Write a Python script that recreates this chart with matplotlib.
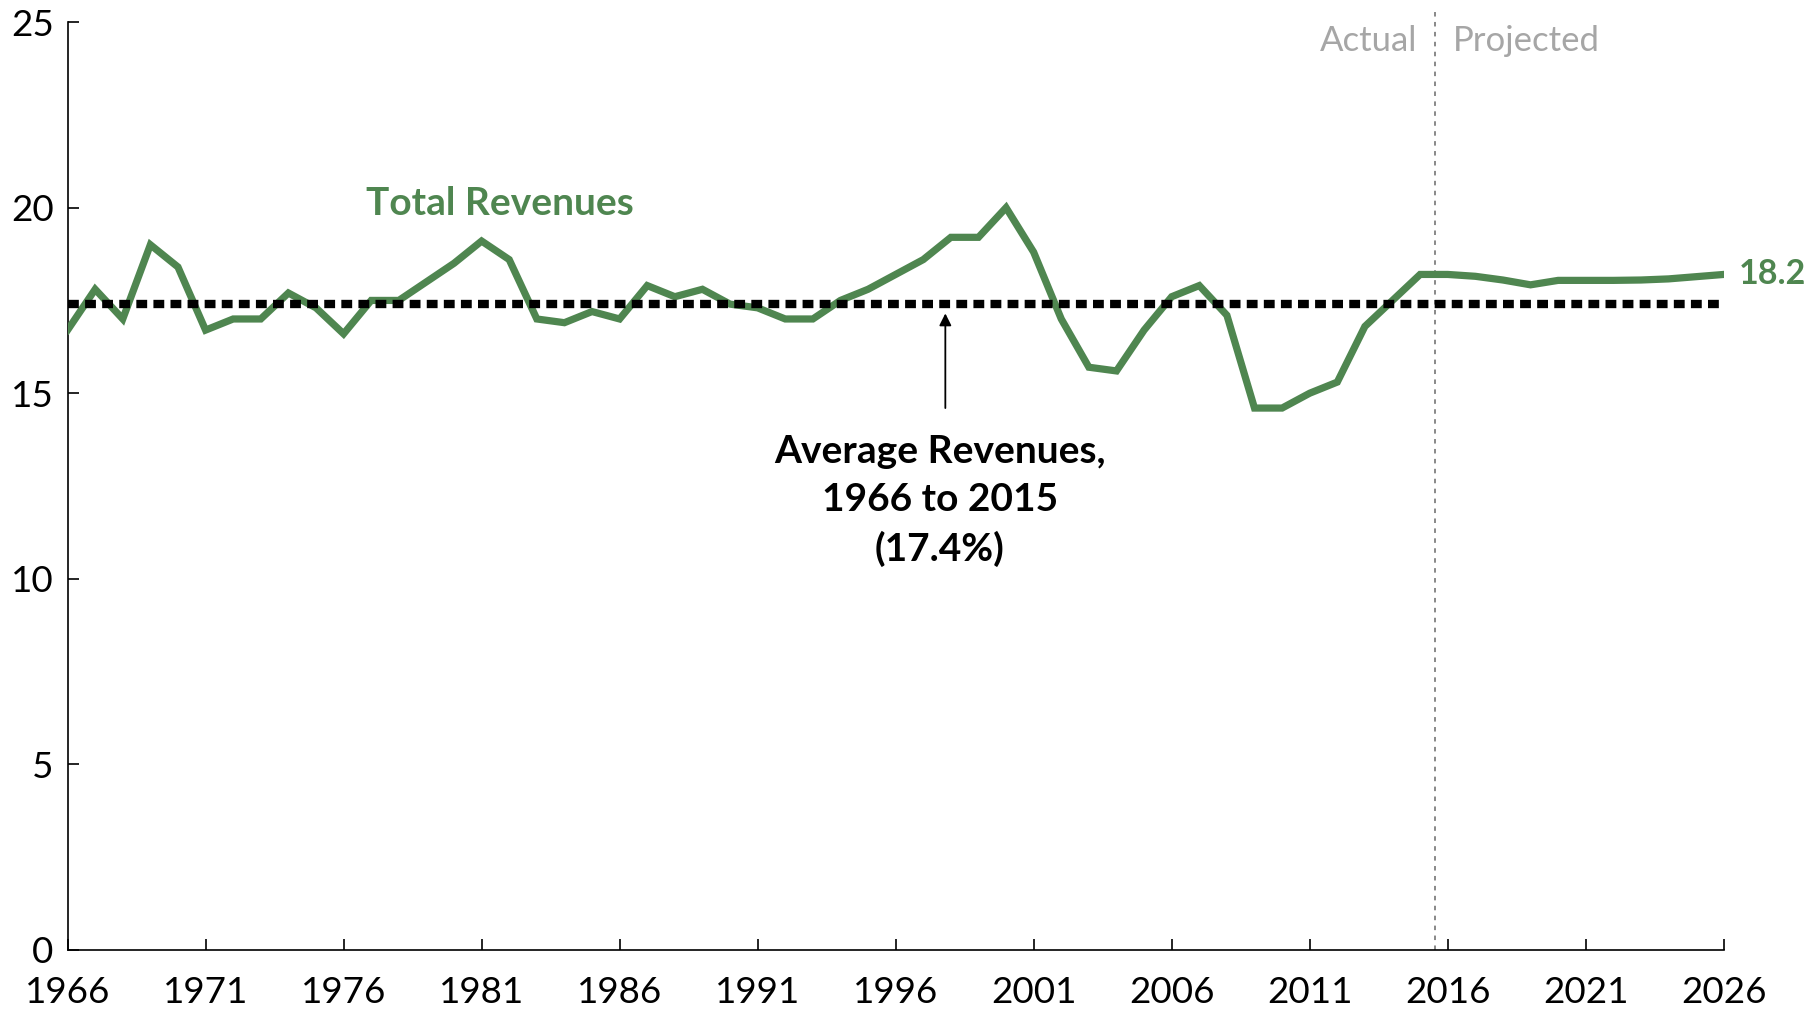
import matplotlib
matplotlib.use("Agg")
import matplotlib.pyplot as plt
import numpy as np

years = list(range(1966, 2027))
revenues = [16.7, 17.8, 17.0, 19.0, 18.4, 16.7, 17.0, 17.0, 17.7, 17.3,
            16.6, 17.5, 17.5, 18.0, 18.5, 19.1, 18.6, 17.0, 16.9, 17.2,
            17.0, 17.9, 17.6, 17.8, 17.4, 17.3, 17.0, 17.0, 17.5, 17.8,
            18.2, 18.6, 19.2, 19.2, 20.0, 18.8, 17.0, 15.7, 15.6, 16.7,
            17.6, 17.9, 17.1, 14.6, 14.6, 15.0, 15.3, 16.8, 17.5, 18.2,
            18.2, 18.15, 18.05, 17.92, 18.04, 18.04, 18.04, 18.05, 18.08, 18.14,
            18.2]
average = 17.4
split_year = 2015.55
xtick_years = list(range(1966, 2027, 5))
yticks = [0, 5, 10, 15, 20, 25]

GREEN = "#4F8650"
GRAY_TXT = "#A6A6A6"
FONT = ["Lato", "DejaVu Sans"]

plt.rcParams['font.family'] = FONT

fig = plt.figure(figsize=(18.16, 10.16), dpi=100)
ax = fig.add_axes([0.0372, 0.065, 0.9120, 0.9133])

ax.plot(years, revenues, color=GREEN, lw=5.2, solid_joinstyle='miter', zorder=3)
ax.plot([years[0], years[-1]], [average, average], color='black', lw=6.0,
        linestyle=(0, (1.3, 0.75)), dash_capstyle='butt', zorder=4)

ax.plot([split_year, split_year], [0, 25.4], color='#7F7F7F', lw=1.3,
        linestyle=(0, (2.5, 3.0)), clip_on=False, zorder=2)

ax.set_xlim(1966, 2026)
ax.set_ylim(0, 25)
ax.set_xticks(xtick_years)
ax.set_xticklabels([str(y) for y in xtick_years])
ax.set_yticks(yticks)
ax.set_yticklabels([str(v) for v in yticks])
ax.tick_params(axis='both', direction='in', length=8, width=1.2, labelsize=26.5,
               colors='black')
ax.tick_params(axis='x', pad=19)
ax.tick_params(axis='y', pad=10)
for s in ['top', 'right']:
    ax.spines[s].set_visible(False)
for s in ['left', 'bottom']:
    ax.spines[s].set_linewidth(1.2)

ax.text(1976.8, 20.12, "Total Revenues", color=GREEN, fontsize=28,
        fontweight='bold', ha='left', va='center')
ax.text(2026.55, 18.2, "18.2", color=GREEN, fontsize=24.5,
        fontweight='bold', ha='left', va='center', clip_on=False)
ax.text(2014.9, 24.5, "Actual", color=GRAY_TXT, fontsize=25,
        ha='right', va='center')
ax.text(2016.2, 24.5, "Projected", color=GRAY_TXT, fontsize=25,
        ha='left', va='center')

ax.annotate("", xy=(1997.8, 17.15), xytext=(1997.8, 14.6),
            arrowprops=dict(arrowstyle='-|>', color='black', lw=1.3,
                            mutation_scale=18, shrinkA=0, shrinkB=0))
ax.text(1997.6, 12.1, "Average Revenues,\n1966 to 2015\n(17.4%)",
        fontsize=28, fontweight='bold', ha='center', va='center',
        linespacing=1.45, color='black')

fig.savefig("out.png", dpi=100)
